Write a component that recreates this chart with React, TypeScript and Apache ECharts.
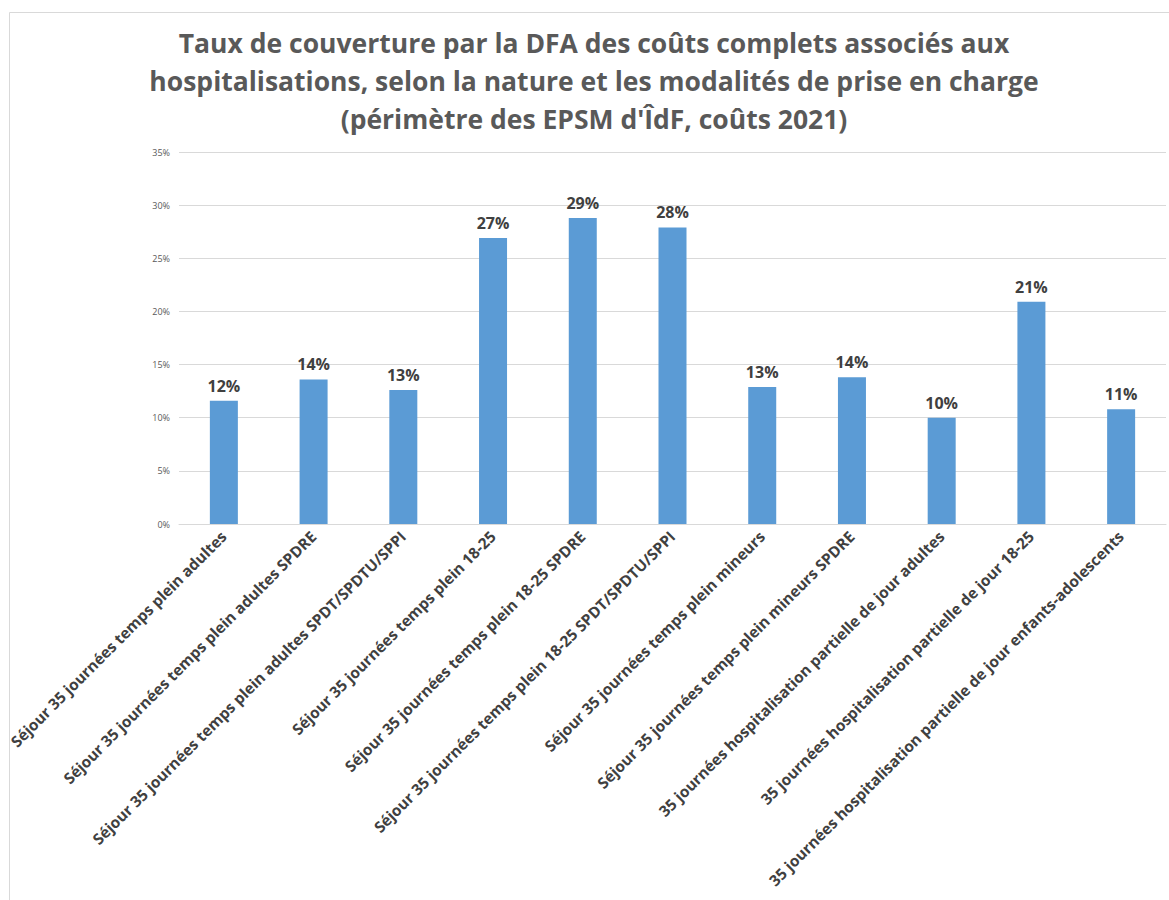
import React, { useEffect, useRef } from "react";
import * as echarts from "echarts";

const categories = [
  "Séjour 35 journées temps plein adultes",
  "Séjour 35 journées temps plein adultes SPDRE",
  "Séjour 35 journées temps plein adultes SPDT/SPDTU/SPPI",
  "Séjour 35 journées temps plein 18-25",
  "Séjour 35 journées temps plein 18-25 SPDRE",
  "Séjour 35 journées temps plein 18-25 SPDT/SPDTU/SPPI",
  "Séjour 35 journées temps plein mineurs",
  "Séjour 35 journées temps plein mineurs SPDRE",
  "35 journées hospitalisation partielle de jour adultes",
  "35 journées hospitalisation partielle de jour 18-25",
  "35 journées hospitalisation partielle de jour enfants-adolescents",
];

const values = [0.116, 0.136, 0.126, 0.269, 0.288, 0.279, 0.129, 0.138, 0.1, 0.209, 0.108];

const titleLines = [
  "Taux de couverture par la DFA des coûts complets associés aux",
  "hospitalisations, selon la nature et les modalités de prise en charge",
  "(périmètre des EPSM d'ÎdF, coûts 2021)",
];

const FONT = "'Open Sans', 'Noto Sans', sans-serif";

export default function App() {
  const ref = useRef<HTMLDivElement>(null);
  useEffect(() => {
    document.body.style.margin = "0";
    const chart = echarts.init(ref.current!, null, { renderer: "svg" });
    chart.setOption({
      animation: false,
      backgroundColor: "#ffffff",
      graphic: [
        {
          type: "rect",
          shape: { x: 9.5, y: 12.5, width: 1300, height: 1000 },
          style: { fill: "none", stroke: "#d9d9d9", lineWidth: 1 },
          silent: true,
        },
        {
          type: "text",
          x: 594,
          y: 24,
          style: {
            text: titleLines.join("\n"),
            fill: "#595959",
            font: `bold 26.5px ${FONT}`,
            lineHeight: 38,
            textAlign: "center",
            textVerticalAlign: "top",
          },
        },
      ],
      grid: { left: 179, right: 3, top: 152, bottom: 376, containLabel: false },
      xAxis: {
        type: "category",
        data: categories,
        axisLine: { lineStyle: { color: "#d9d9d9" } },
        axisTick: { show: false },
        axisLabel: {
          interval: 0,
          rotate: 45,
          margin: 10,
          color: "#404040",
          fontFamily: FONT,
          fontWeight: "bold",
          fontSize: 15.4,
        },
      },
      yAxis: {
        type: "value",
        min: 0,
        max: 0.35,
        interval: 0.05,
        axisLine: { show: false },
        axisTick: { show: false },
        splitLine: { lineStyle: { color: "#d9d9d9" } },
        axisLabel: {
          color: "#595959",
          fontFamily: FONT,
          fontSize: 9,
          margin: 9,
          formatter: (v: number) => `${Math.round(v * 100)}%`,
        },
      },
      series: [
        {
          type: "bar",
          data: values,
          barWidth: 28,
          itemStyle: { color: "#5b9bd5" },
          label: {
            show: true,
            position: "top",
            distance: 7,
            color: "#404040",
            fontFamily: FONT,
            fontWeight: "bold",
            fontSize: 16,
            formatter: (p: any) => `${Math.round(p.value * 100)}%`,
          },
        },
      ],
    });
    return () => chart.dispose();
  }, []);
  return <div ref={ref} style={{ width: 1169, height: 900 }} />;
}
